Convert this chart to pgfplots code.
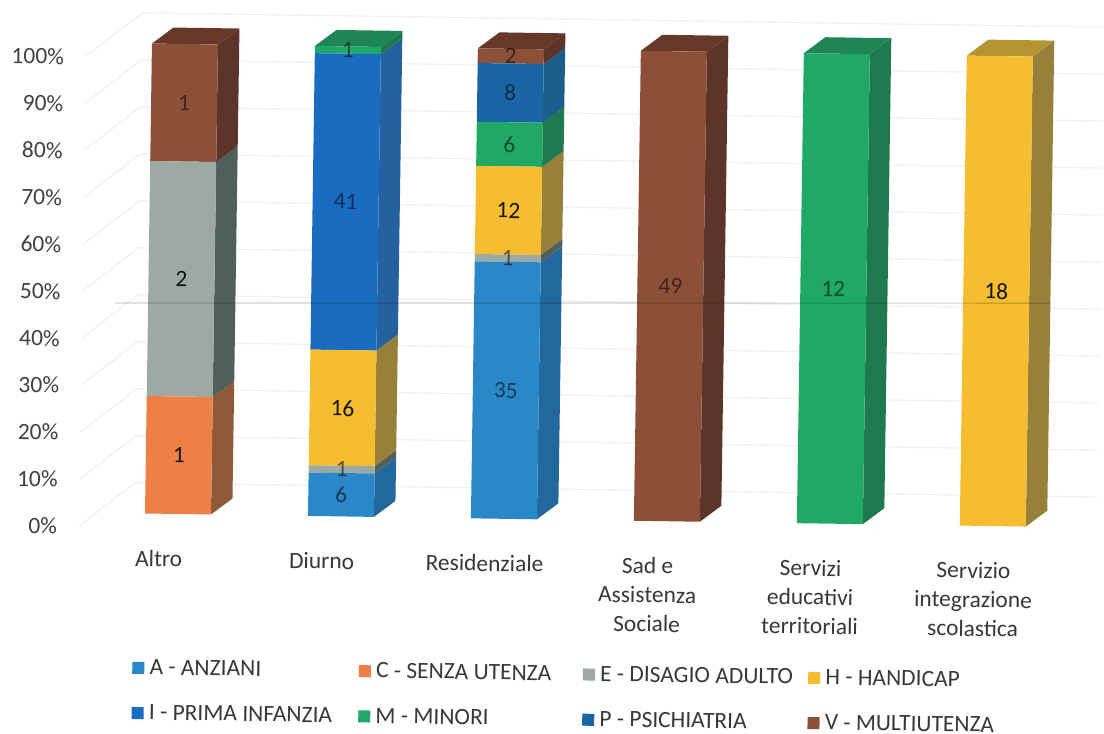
\documentclass[border=0pt]{standalone}
\usepackage{fontspec}
\setmainfont{Carlito}
\usepackage{pgfplots}
\usepackage{pgfplotstable}
\pgfplotsset{compat=1.18}

% Share of each user group per service type, in percent
\pgfplotstableread{
x  A      C   E     H      I      M     P     V
0  0      25  50    0      0      0     0     25
1  9.23   0   1.54  24.62  63.07  1.54  0     0
2  54.69  0   1.56  18.75  0      9.38  12.5  3.12
3  0      0   0     0      0      0     0     100
4  0      0   0     0      0      100   0     0
5  0      0   0     100    0      0     0     0
}\shares

% Counts printed on the segments, at the middle of each segment
\pgfplotstableread{
x  y      n
0  12.5   1
0  50     2
1  23     16
2  65.6   12
5  50     18
}\strongcounts
\pgfplotstableread{
x  y      n
0  87.5   1
1  4.6    6
1  10     1
1  67     41
1  99.2   1
2  27.3   35
2  55.5   1
2  79.7   6
2  90.6   8
2  98.4   2
3  50     49
4  50     12
}\softcounts

\definecolor{cA}{HTML}{2A87C8}\definecolor{sA}{HTML}{23689C}
\definecolor{cC}{HTML}{EE8045}\definecolor{sC}{HTML}{8F5A38}
\definecolor{cE}{HTML}{9DAAA4}\definecolor{sE}{HTML}{4F5F5C}
\definecolor{cH}{HTML}{F5BD2F}\definecolor{sH}{HTML}{96803A}\definecolor{tH}{HTML}{B59432}
\definecolor{cI}{HTML}{1A6CC0}\definecolor{sI}{HTML}{26619F}
\definecolor{cM}{HTML}{1FA866}\definecolor{sM}{HTML}{1E7A4E}\definecolor{tM}{HTML}{1F8554}
\definecolor{cP}{HTML}{1A65A5}\definecolor{sP}{HTML}{1B5E8A}
\definecolor{cV}{HTML}{8C5038}\definecolor{sV}{HTML}{5C342A}\definecolor{tV}{HTML}{663828}
\definecolor{wall}{HTML}{EEF2F2}

% Side of one segment: bar centre, lower and upper share, colour
\newcommand{\sideface}[4]{%
  \pgfmathsetmacro{\xa}{#1+0.2025}%
  \pgfmathsetmacro{\xb}{#1+0.3329}%
  \pgfmathsetmacro{\ya}{#2+3.47}%
  \pgfmathsetmacro{\yb}{#3+3.47}%
  \addplot[fill=#4,draw=none] coordinates {(\xa,#2) (\xb,\ya) (\xb,\yb) (\xa,#3)} --cycle;%
}
% Lid of a bar: bar centre, colour
\newcommand{\topface}[2]{%
  \pgfmathsetmacro{\xa}{#1-0.2025}%
  \pgfmathsetmacro{\xb}{#1+0.2025}%
  \pgfmathsetmacro{\xc}{#1+0.3329}%
  \pgfmathsetmacro{\xd}{#1-0.0721}%
  \addplot[fill=#2,draw=none] coordinates {(\xa,100) (\xb,100) (\xc,103.47) (\xd,103.47)} --cycle;%
}
% One level of the back wall and floor grid
\newcommand{\gridlevel}[1]{%
  \pgfmathsetmacro{\ya}{#1-2.85}%
  \pgfmathsetmacro{\yb}{#1+6.5}%
  \addplot[wall,line width=1pt] coordinates {(-0.605,\ya) (-0.265,\yb) (5.64,\yb)};%
}
% Legend text in a box of fixed width, so that the columns keep their spacing
\newcommand{\entry}[2]{\makebox[#1][l]{\hspace{2pt}#2}}

\pgfplotsset{
  frame/.style={
    scale only axis, width=764pt, height=405.4pt,
    xmin=-0.6, xmax=5.65, ymin=-5, ymax=110,
    clip=false, axis line style={draw=none}, major tick length=0pt,
  },
  blank/.style={frame, xtick=\empty, ytick=\empty},
}

\begin{document}
\begin{tikzpicture}
\useasboundingbox (0,0) rectangle (828pt,549.75pt);
\begin{scope}[shift={(108.75pt,164.625pt)},rotate=-0.85,transform shape]

% Wall grid and the side and top faces of the bars
\begin{axis}[blank, at={(24.75pt,0pt)}, anchor=origin]
  \gridlevel{0}\gridlevel{10}\gridlevel{20}\gridlevel{30}\gridlevel{40}
  \gridlevel{50}\gridlevel{60}\gridlevel{70}\gridlevel{80}\gridlevel{90}\gridlevel{100}
  \sideface{0}{0}{25}{sC}\sideface{0}{25}{75}{sE}\sideface{0}{75}{100}{sV}\topface{0}{tV}
  \sideface{1}{0}{9.23}{sA}\sideface{1}{9.23}{10.77}{sE}\sideface{1}{10.77}{35.39}{sH}
  \sideface{1}{35.39}{98.46}{sI}\sideface{1}{98.46}{100}{sM}\topface{1}{tM}
  \sideface{2}{0}{54.69}{sA}\sideface{2}{54.69}{56.25}{sE}\sideface{2}{56.25}{75}{sH}
  \sideface{2}{75}{84.38}{sM}\sideface{2}{84.38}{96.88}{sP}\sideface{2}{96.88}{100}{sV}\topface{2}{tV}
  \sideface{3}{0}{100}{sV}\topface{3}{tV}
  \sideface{4}{0}{100}{sM}\topface{4}{tM}
  \sideface{5}{0}{100}{sH}\topface{5}{tH}
\end{axis}

% Front faces, tick labels and legend
\begin{axis}[frame, at={(24.75pt,0pt)}, anchor=origin,
    ybar stacked, bar width=0.405,
    xtick={0,...,5},
    xticklabels={Altro,Diurno,Residenziale,{Sad e\\Assistenza\\Sociale},{Servizi\\educativi\\territoriali},{Servizio\\integrazione\\scolastica}},
    xticklabel style={anchor=north, align=center, inner sep=0pt, xshift=-14pt, yshift=-9.5pt,
      font=\fontsize{17.6}{21.75}\selectfont, text=black!78},
    ytick={0,10,...,100},
    yticklabels={0\%,10\%,20\%,30\%,40\%,50\%,60\%,70\%,80\%,90\%,100\%},
    yticklabel style={anchor=east, inner sep=0pt, xshift=-17pt, yshift=-10.6pt,
      font=\fontsize{17.6}{20}\selectfont, text=black!75},
    legend columns=4,
    legend cell align=left,
    legend style={at={(axis cs:-0.268,-30.4)}, anchor=north west, draw=none, fill=none, inner sep=0pt,
      font=\fontsize{17.6}{20}\selectfont, text=black!78,
      /tikz/row sep=17pt, /tikz/column sep=0pt},
    legend image code/.code={\fill[#1] (0pt,-4.5pt) rectangle (9pt,4.5pt);},
  ]
  \addplot[fill=cA,draw=none] table[x=x,y=A] {\shares}; \addlegendentry{\entry{157pt}{A - ANZIANI}}
  \addplot[fill=cC,draw=none] table[x=x,y=C] {\shares}; \addlegendentry{\entry{155pt}{C - SENZA UTENZA}}
  \addplot[fill=cE,draw=none] table[x=x,y=E] {\shares}; \addlegendentry{\entry{156pt}{E - DISAGIO ADULTO}}
  \addplot[fill=cH,draw=none] table[x=x,y=H] {\shares}; \addlegendentry{\entry{110pt}{H - HANDICAP}}
  \addplot[fill=cI,draw=none] table[x=x,y=I] {\shares}; \addlegendentry{\entry{157pt}{I - PRIMA INFANZIA}}
  \addplot[fill=cM,draw=none] table[x=x,y=M] {\shares}; \addlegendentry{\entry{155pt}{M - MINORI}}
  \addplot[fill=cP,draw=none] table[x=x,y=P] {\shares}; \addlegendentry{\entry{156pt}{P - PSICHIATRIA}}
  \addplot[fill=cV,draw=none] table[x=x,y=V] {\shares}; \addlegendentry{\entry{110pt}{V - MULTIUTENZA}}
\end{axis}

% Counts on the segments and the crease across the sheet
\begin{axis}[blank, at={(24.75pt,0pt)}, anchor=origin,
    nodes near coords, point meta=explicit symbolic,
    every node near coord/.append style={anchor=center, inner sep=0pt,
      font=\fontsize{17.6}{20}\selectfont},
  ]
  \addplot[only marks, mark=none, nodes near coords style={text=black!92}]
    table[x=x,y=y,meta=n] {\strongcounts};
  \addplot[only marks, mark=none, nodes near coords style={text=black, text opacity=0.55}]
    table[x=x,y=y,meta=n] {\softcounts};
  \draw[black,opacity=0.18,line width=0.9pt] (axis cs:-0.405,44.7) -- (axis cs:5.33,47.6);
\end{axis}

\end{scope}
\end{tikzpicture}
\end{document}
